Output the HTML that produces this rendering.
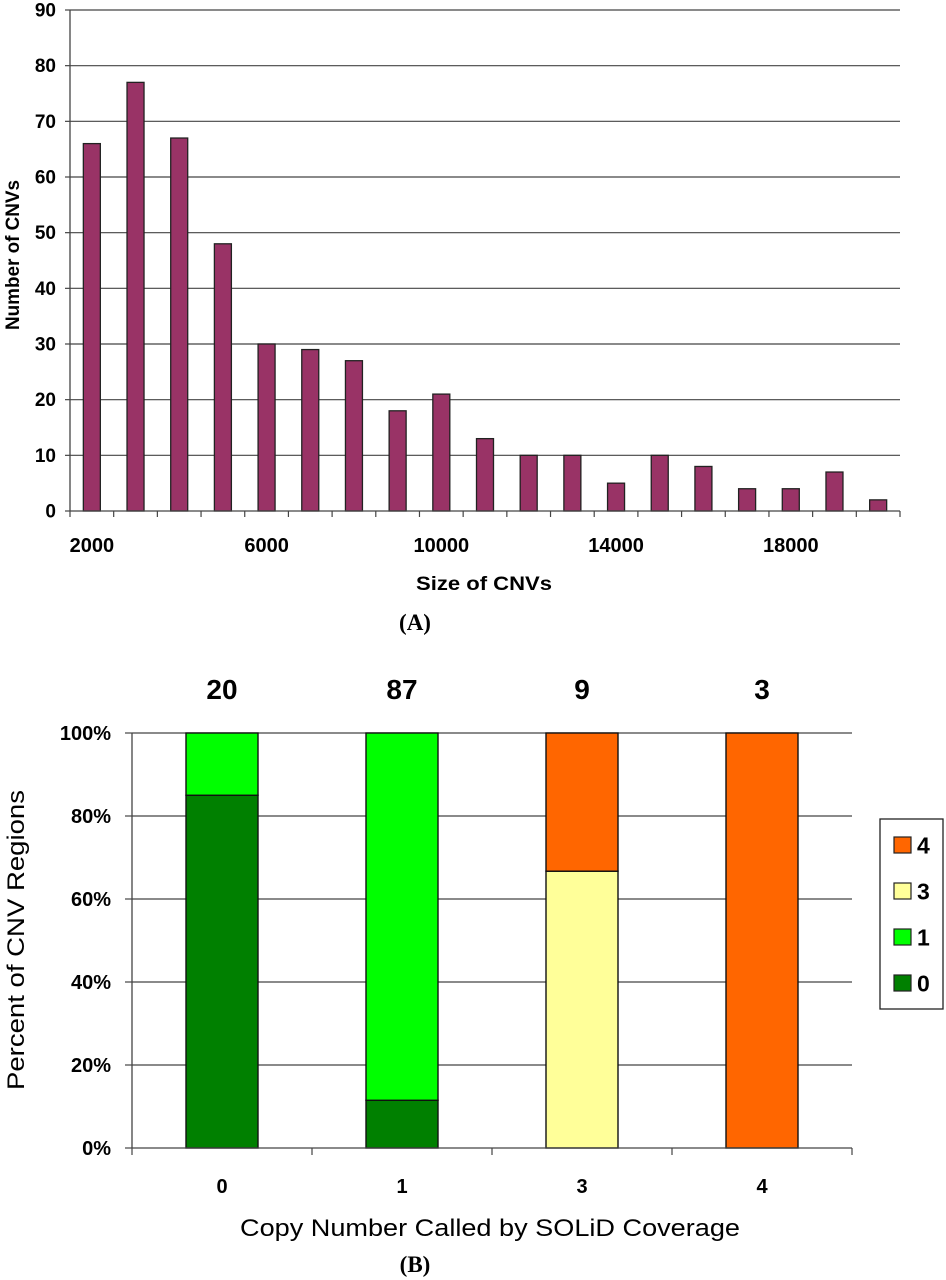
<!DOCTYPE html>
<html><head><meta charset="utf-8">
<style>
html,body{margin:0;padding:0;background:#fff;}
svg{display:block;font-family:"Liberation Sans",Arial,sans-serif;}
</style></head>
<body>
<svg id="fig" width="946" height="1280" viewBox="0 0 946 1280" xmlns="http://www.w3.org/2000/svg">
<g id="chartA"></g>
<g id="chartB"></g>
</svg>
<script>
// ---- Chart A data ----
const aCategories = [2000,3000,4000,5000,6000,7000,8000,9000,10000,11000,12000,13000,14000,15000,16000,17000,18000,19000,20000];
const aValues = [66,77,67,48,30,29,27,18,21,13,10,10,5,10,8,4,4,7,2];
const aYTicks = [0,10,20,30,40,50,60,70,80,90];
const aXLabels = ["2000","6000","10000","14000","18000"];
const aXLabelIdx = [0,4,8,12,16];

// ---- Chart B data ----
const bCategories = ["0","1","3","4"];
const bCounts = ["20","87","9","3"];
const bSeriesNames = ["0","1","3","4"];
const bSeries0 = [85,11.5,0,0];
const bSeries1 = [15,88.5,0,0];
const bSeries3 = [0,0,66.7,0];
const bSeries4 = [0,0,33.3,100];
const bYTicks = [0,20,40,60,80,100];

const NS="http://www.w3.org/2000/svg";
function mk(tag,attrs,parent,text){const e=document.createElementNS(NS,tag);for(const k in attrs)e.setAttribute(k,attrs[k]);if(text!==undefined)e.textContent=text;parent.appendChild(e);return e;}

// ---- Chart A ----
(function(){
  const g=document.getElementById('chartA');
  const x0=70,x1=900,yTop=10,yBot=511,max=90;
  const n=aCategories.length, cw=(x1-x0)/n;
  const y=v=>yBot-(v/max)*(yBot-yTop);
  const xc=i=>x0+cw*(i+0.5);
  aYTicks.forEach(t=>{
    if(t>0){const l=mk('line',{x1:x0,x2:x1,y1:y(t),y2:y(t),stroke:'#444','stroke-width':1.2},g);
    
    }
    const tk=mk('line',{x1:x0-5,x2:x0,y1:y(t),y2:y(t),stroke:'#444','stroke-width':1.2},g);
    const tx=mk('text',{x:56,y:y(t)+6.5,'text-anchor':'end','font-size':19,'font-weight':'bold'},g,String(t));
    
    
  });
  aValues.forEach((v,i)=>{
    const r=mk('rect',{x:xc(i)-8.5,y:y(v),width:17,height:yBot-y(v),fill:'#993366',stroke:'#222','stroke-width':1.3},g);
    
    
  });
  mk('line',{x1:x0,x2:x0,y1:yTop,y2:yBot,stroke:'#444','stroke-width':1.3},g);
  mk('line',{x1:x0,x2:x1,y1:yBot,y2:yBot,stroke:'#444','stroke-width':1.3},g);
  for(let i=0;i<=n;i++){mk('line',{x1:x0+cw*i,x2:x0+cw*i,y1:yBot,y2:yBot+6,stroke:'#444','stroke-width':1.2},g);}
  aXLabels.forEach((s,k)=>{
    const t=mk('text',{x:xc(aXLabelIdx[k]),y:552,'text-anchor':'middle','font-size':20,'font-weight':'bold'},g,s);
    
    
  });
  const xt=mk('text',{x:484,y:590,'text-anchor':'middle','font-size':19,'font-weight':'bold',textLength:136,lengthAdjust:'spacingAndGlyphs'},g,'Size of CNVs');
  
  
  const yt=mk('text',{x:0,y:0,'text-anchor':'middle','font-size':19,'font-weight':'bold',transform:'translate(19,255) rotate(-90)',textLength:150,lengthAdjust:'spacingAndGlyphs'},g,'Number of CNVs');
  
  
  const cap=mk('text',{x:415,y:630,'text-anchor':'middle','font-size':23,'font-weight':'bold','font-family':'Liberation Serif, serif'},g,'(A)');
  
  
})();

// ---- Chart B ----
(function(){
  const g=document.getElementById('chartB');
  const x0=132,x1=852,yTop=733,yBot=1148;
  const n=bCategories.length, cw=(x1-x0)/n, bw=72;
  const y=v=>yBot-(v/100)*(yBot-yTop);
  const xc=i=>x0+cw*(i+0.5);
  bYTicks.forEach(t=>{
    if(t>0){const l=mk('line',{x1:x0,x2:x1,y1:y(t),y2:y(t),stroke:'#444','stroke-width':1.2},g);
    
    }
    mk('line',{x1:x0-7,x2:x0,y1:y(t),y2:y(t),stroke:'#444','stroke-width':1.2},g);
    const tx=mk('text',{x:111,y:y(t)+7,'text-anchor':'end','font-size':20,'font-weight':'bold'},g,t+'%');
    
    
  });
  const colors={"0":"#008000","1":"#00ff00","3":"#ffff99","4":"#ff6600"};
  const seriesArr=[bSeries0,bSeries1,bSeries3,bSeries4];
  bCategories.forEach((c,i)=>{
    let acc=0;
    seriesArr.forEach((s,k)=>{
      const v=s[i]; if(v<=0) return;
      const r=mk('rect',{x:xc(i)-bw/2,y:y(acc+v),width:bw,height:y(acc)-y(acc+v),fill:colors[bSeriesNames[k]],stroke:'#111','stroke-width':1.4},g);
      
      
      acc+=v;
    });
    const t=mk('text',{x:xc(i),y:699,'text-anchor':'middle','font-size':28,'font-weight':'bold'},g,bCounts[i]);
    
    
    const cl=mk('text',{x:xc(i),y:1193,'text-anchor':'middle','font-size':20,'font-weight':'bold'},g,c);
    
    
  });
  mk('line',{x1:x0,x2:x0,y1:yTop,y2:yBot,stroke:'#444','stroke-width':1.3},g);
  mk('line',{x1:x0,x2:x1,y1:yBot,y2:yBot,stroke:'#444','stroke-width':1.3},g);
  for(let i=0;i<=n;i++){mk('line',{x1:x0+cw*i,x2:x0+cw*i,y1:yBot,y2:yBot+7,stroke:'#444','stroke-width':1.2},g);}
  const xt=mk('text',{x:490,y:1236,'text-anchor':'middle','font-size':24,textLength:500,lengthAdjust:'spacingAndGlyphs'},g,'Copy Number Called by SOLiD Coverage');
  
  
  const yt=mk('text',{x:0,y:0,'text-anchor':'middle','font-size':24,transform:'translate(24,940) rotate(-90)',textLength:300,lengthAdjust:'spacingAndGlyphs'},g,'Percent of CNV Regions');
  
  
  const cap=mk('text',{x:415,y:1272,'text-anchor':'middle','font-size':23,'font-weight':'bold','font-family':'Liberation Serif, serif'},g,'(B)');
  
  
  // legend
  const lg=mk('g',{},g);
  
  
  mk('rect',{x:880,y:819,width:63,height:190,fill:'#fff',stroke:'#222','stroke-width':1.3},lg);
  const order=["4","3","1","0"];
  order.forEach((s,k)=>{
    const cy=845+k*46;
    const e=mk('g',{},lg);
    
    
    mk('rect',{x:894,y:cy-8,width:17,height:16,fill:colors[s],stroke:'#222','stroke-width':1.2},e);
    mk('text',{x:917,y:cy+8.5,'font-size':23,'font-weight':'bold'},e,s);
  });
})();
</script>
</body></html>
